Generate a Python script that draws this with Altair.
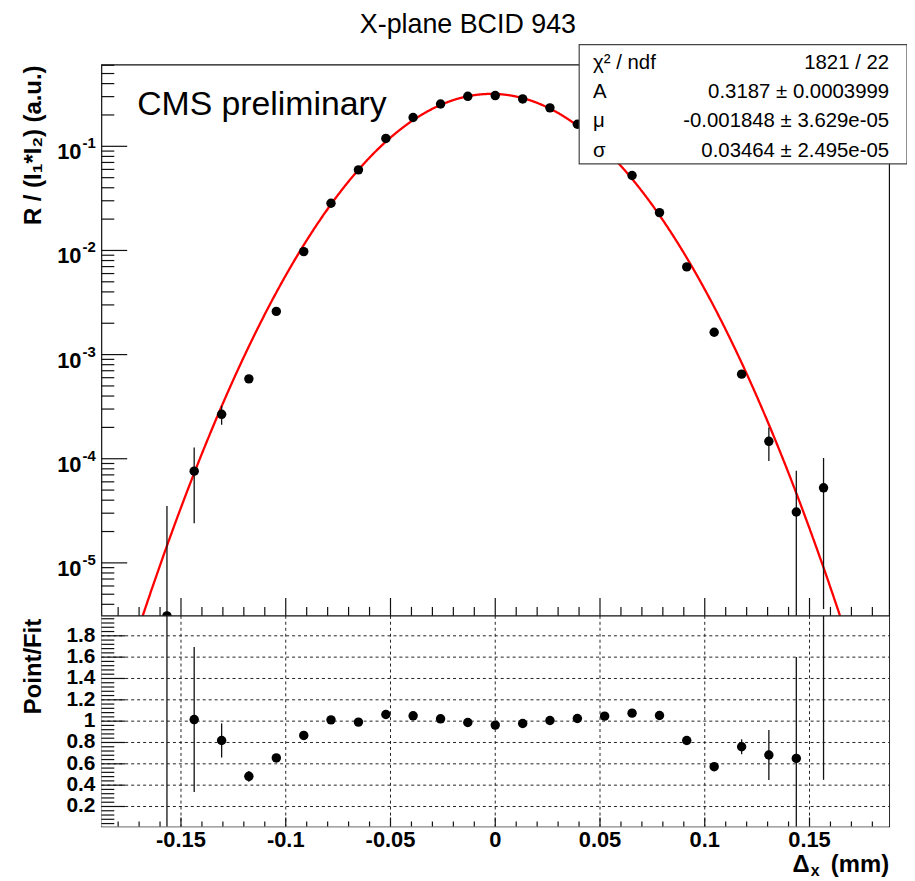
import altair as alt
import numpy as np
import pandas as pd

# ---------------- data ----------------
dx_mm = [-0.1567, -0.1437, -0.1306, -0.1176, -0.1045, -0.0914, -0.0784, -0.0653,
         -0.0522, -0.0392, -0.0261, -0.0131, 0.0, 0.0131, 0.0261, 0.0392, 0.0522,
         0.0653, 0.0784, 0.0914, 0.1045, 0.1176, 0.1306, 0.1437, 0.1567]
rate = [3.1e-6, 7.6e-5, 2.67e-4, 5.85e-4, 2.6e-3, 9.75e-3, 0.0284, 0.0594, 0.119, 0.189,
        0.255, 0.302, 0.307, 0.285, 0.234, 0.163, 0.099, 0.0525, 0.0231, 0.00695, 1.64e-3,
        6.49e-4, 1.47e-4, 3.08e-5, 5.26e-5]
rate_err = [3.2e-5, 5.2e-5, 5.5e-5, 3.0e-5, 5.0e-5, 1.0e-4, 2.0e-4, 3.0e-4, 4.0e-4, 5.0e-4,
            5.0e-4, 5.0e-4, 5.0e-4, 5.0e-4, 5.0e-4, 5.0e-4, 4.0e-4, 3.0e-4, 2.0e-4, 1.0e-4,
            5.0e-5, 4.0e-5, 5.2e-5, 4.6e-5, 4.9e-5]
ratio = [0.0, 1.015, 0.819, 0.483, 0.655, 0.866, 1.012, 0.991, 1.062, 1.05, 1.022, 0.987,
         0.963, 0.978, 1.006, 1.025, 1.047, 1.075, 1.053, 0.819, 0.573, 0.76, 0.683, 0.651, 6.0]
ratio_err = [2.5, 0.68, 0.16, 0.05, 0.02, 0.012, 0.008, 0.006, 0.004, 0.003, 0.002, 0.002,
             0.002, 0.002, 0.002, 0.003, 0.004, 0.006, 0.008, 0.012, 0.03, 0.07, 0.235, 0.95, 5.55]

# fit parameters (shown in the stats box)
fit_A = 0.3187
fit_mu = -0.001848
fit_sigma = 0.03464

stats_names = ["χ² / ndf", "A", "μ", "σ"]
stats_values = ["1821 / 22", "0.3187 ± 0.0003999", "-0.001848 ± 3.629e-05", "0.03464 ± 2.495e-05"]

x_major = [-0.15, -0.1, -0.05, 0.0, 0.05, 0.1, 0.15]
x_major_labels = ["-0.15", "-0.1", "-0.05", "0", "0.05", "0.1", "0.15"]
decades = [1e-1, 1e-2, 1e-3, 1e-4, 1e-5]
decade_exp = ["-1", "-2", "-3", "-4", "-5"]
ratio_major = [1.8, 1.6, 1.4, 1.2, 1.0, 0.8, 0.6, 0.4, 0.2]
ratio_labels = ["1.8", "1.6", "1.4", "1.2", "1", "0.8", "0.6", "0.4", "0.2"]

TITLE = "X-plane BCID 943"
CMS = "CMS preliminary"
YTITLE_TOP = "R / (I\u2081*I\u2082) (a.u.)"
YTITLE_BOT = "Point/Fit"

# ---------------- geometry / style ----------------
W = 793
H_TOP = 555
H = 767
XMIN, XMAX = -0.188, 0.188
YMIN, YMAX = 3.1e-6, 0.61
RMIN, RMAX = 0.013, 1.987
FONT = "Liberation Sans, Arial, Helvetica, sans-serif"
INK = "#111111"

xsc = alt.Scale(domain=[XMIN, XMAX], nice=False, zero=False)
ytop = alt.Scale(type="log", domain=[YMIN, YMAX], range=[H_TOP, 0], clamp=True, nice=False)
ybot = alt.Scale(domain=[RMIN, RMAX], range=[H, H_TOP], clamp=True, nice=False, zero=False)

pts = pd.DataFrame({"x": dx_mm, "rate": rate, "err": rate_err, "ratio": ratio, "rerr": ratio_err})
pts["lo"] = np.maximum(pts["rate"] - pts["err"], 1e-12)
pts["hi"] = pts["rate"] + pts["err"]
pts["rlo"] = pts["ratio"] - pts["rerr"]
pts["rhi"] = pts["ratio"] + pts["rerr"]

# fit curve evaluated from the displayed parameters
xf = np.linspace(XMIN, XMAX, 1505)
yf = fit_A * np.exp(-((xf - fit_mu) ** 2) / (2 * fit_sigma ** 2))
half = fit_sigma * np.sqrt(2 * np.log(fit_A / YMIN))
keep = yf >= YMIN
fit = pd.DataFrame({"x": np.concatenate([[fit_mu - half], xf[keep], [fit_mu + half]]),
                    "y": np.concatenate([[YMIN], yf[keep], [YMIN]])})

one = pd.DataFrame({"k": [0]})

x_minor = [round(-0.18 + 0.01 * k, 2) for k in range(37)]
x_minor = [v for v in x_minor if all(abs(v - m) > 1e-9 for m in x_major)]
log_minor = [m * 10.0 ** e for e in range(-6, 0) for m in range(2, 10)
             if YMIN <= m * 10.0 ** e <= YMAX]
r_minor = [round(0.04 * k, 2) for k in range(1, 50)]
r_minor = [v for v in r_minor if RMIN <= v <= RMAX and all(abs(v - m) > 1e-9 for m in ratio_major)]

X = lambda f="x": alt.X(f"{f}:Q", scale=xsc, axis=None)


def txt(text, x, y, size, weight="normal", align="left", baseline="alphabetic", angle=0):
    kw = dict(font=FONT, fontSize=size, fontWeight=weight, align=align,
              baseline=baseline, color="black")
    if angle:
        kw["angle"] = angle
    return alt.Chart(one).mark_text(**kw).encode(x=alt.value(x), y=alt.value(y), text=alt.value(text))


layers = []

# ---- top panel ----
layers.append(alt.Chart(fit).mark_line(color="#ff0000", strokeWidth=2.3).encode(
    x=X(), y=alt.Y("y:Q", scale=ytop, axis=None)))
layers.append(alt.Chart(pts).mark_rule(color=INK, strokeWidth=1.3).encode(
    x=X(), y=alt.Y("lo:Q", scale=ytop, axis=None), y2="hi:Q"))
layers.append(alt.Chart(pts).mark_circle(color="black", opacity=1, size=90).encode(
    x=X(), y=alt.Y("rate:Q", scale=ytop, axis=None)))

# cover for the lower pad
layers.append(alt.Chart(one).mark_rect(fill="white", stroke=None).encode(
    x=alt.value(0), x2=alt.value(W), y=alt.value(H_TOP), y2=alt.value(H)))

# ---- bottom panel grid ----
grid_h = pd.DataFrame({"v": ratio_major})
layers.append(alt.Chart(grid_h).mark_rule(color="#222", strokeWidth=1, strokeDash=[3, 3]).encode(
    y=alt.Y("v:Q", scale=ybot, axis=None), x=alt.value(0), x2=alt.value(W)))
grid_v = pd.DataFrame({"x": x_major})
layers.append(alt.Chart(grid_v).mark_rule(color="#222", strokeWidth=1, strokeDash=[3, 3]).encode(
    x=X(), y=alt.value(H_TOP), y2=alt.value(H)))

# ---- bottom panel data ----
layers.append(alt.Chart(pts).mark_rule(color=INK, strokeWidth=1.3).encode(
    x=X(), y=alt.Y("rlo:Q", scale=ybot, axis=None), y2="rhi:Q"))
layers.append(alt.Chart(pts).transform_filter(
    f"datum.ratio >= {RMIN} && datum.ratio <= {RMAX}").mark_circle(
    color="black", opacity=1, size=90).encode(
    x=X(), y=alt.Y("ratio:Q", scale=ybot, axis=None)))

# panel separator
layers.append(alt.Chart(one).mark_rule(color=INK, strokeWidth=1.2).encode(
    x=alt.value(0), x2=alt.value(W), y=alt.value(H_TOP)))

# ---- ticks ----
xmaj = pd.DataFrame({"x": x_major})
xmin_ = pd.DataFrame({"x": x_minor})
layers.append(alt.Chart(xmaj).mark_rule(color=INK, strokeWidth=1.2).encode(
    x=X(), y=alt.value(H_TOP), y2=alt.value(H_TOP - 18)))
layers.append(alt.Chart(xmin_).mark_rule(color=INK, strokeWidth=1.2).encode(
    x=X(), y=alt.value(H_TOP), y2=alt.value(H_TOP - 9)))
layers.append(alt.Chart(xmaj).mark_rule(color=INK, strokeWidth=1.2).encode(
    x=X(), y=alt.value(H), y2=alt.value(H - 9)))
layers.append(alt.Chart(xmin_).mark_rule(color=INK, strokeWidth=1.2).encode(
    x=X(), y=alt.value(H), y2=alt.value(H - 5)))

ydec = pd.DataFrame({"v": decades, "e": decade_exp})
layers.append(alt.Chart(ydec).mark_rule(color=INK, strokeWidth=1.2).encode(
    y=alt.Y("v:Q", scale=ytop, axis=None), x=alt.value(0), x2=alt.value(26)))
layers.append(alt.Chart(pd.DataFrame({"v": log_minor})).mark_rule(color=INK, strokeWidth=1.2).encode(
    y=alt.Y("v:Q", scale=ytop, axis=None), x=alt.value(0), x2=alt.value(13)))
rmaj = pd.DataFrame({"v": ratio_major, "lab": ratio_labels})
layers.append(alt.Chart(rmaj).mark_rule(color=INK, strokeWidth=1.2).encode(
    y=alt.Y("v:Q", scale=ybot, axis=None), x=alt.value(0), x2=alt.value(24)))
layers.append(alt.Chart(pd.DataFrame({"v": r_minor})).mark_rule(color=INK, strokeWidth=1.2).encode(
    y=alt.Y("v:Q", scale=ybot, axis=None), x=alt.value(0), x2=alt.value(13)))

# ---- tick labels ----
xlab = pd.DataFrame({"x": x_major, "lab": x_major_labels})
layers.append(alt.Chart(xlab).mark_text(font=FONT, fontSize=22, fontWeight="bold",
                                        align="center", baseline="alphabetic", color="black").encode(
    x=X(), y=alt.value(788), text="lab:N"))
layers.append(alt.Chart(ydec).mark_text(font=FONT, fontSize=22, fontWeight="bold", align="right",
                                        baseline="alphabetic", dy=13, color="black").encode(
    y=alt.Y("v:Q", scale=ytop, axis=None), x=alt.value(-20), text=alt.value("10")))
layers.append(alt.Chart(ydec).mark_text(font=FONT, fontSize=15, fontWeight="bold", align="left",
                                        baseline="alphabetic", dy=2, color="black").encode(
    y=alt.Y("v:Q", scale=ytop, axis=None), x=alt.value(-19), text="e:N"))
layers.append(alt.Chart(rmaj).mark_text(font=FONT, fontSize=21, fontWeight="bold", align="right",
                                        baseline="middle", color="black").encode(
    y=alt.Y("v:Q", scale=ybot, axis=None), x=alt.value(-6), text="lab:N"))

# ---- axis titles ----
layers.append(txt(YTITLE_TOP, -68, 1, 24, "bold", align="right", baseline="middle", angle=270))
layers.append(txt(YTITLE_BOT, -68, H_TOP + 3, 24, "bold", align="right", baseline="middle", angle=270))
layers.append(txt("Δ", 713, 813, 24, "bold", align="right"))
layers.append(txt("x", 714, 817, 16, "bold", align="left"))
layers.append(txt("(mm)", W, 813, 24, "bold", align="right"))

# ---- annotations ----
layers.append(txt(CMS, 36, 51, 34))
layers.append(txt(TITLE, 369, -32, 27, align="center"))

layers.append(alt.Chart(one).mark_rect(fill="white", stroke="#444", strokeWidth=1.2).encode(
    x=alt.value(481), x2=alt.value(811), y=alt.value(-20), y2=alt.value(100)))
stats = pd.DataFrame({"row": [0, 1, 2, 3], "name": stats_names, "val": stats_values})
rowsc = alt.Scale(domain=[0, 3], range=[4, 93])
layers.append(alt.Chart(stats).mark_text(font=FONT, fontSize=20.5, align="left",
                                         baseline="alphabetic", color="black").encode(
    x=alt.value(495), y=alt.Y("row:Q", scale=rowsc, axis=None), text="name:N"))
layers.append(alt.Chart(stats).mark_text(font=FONT, fontSize=20.5, align="right",
                                         baseline="alphabetic", color="black").encode(
    x=alt.value(W), y=alt.Y("row:Q", scale=rowsc, axis=None), text="val:N"))

chart = alt.layer(*layers).resolve_scale(y="independent").properties(
    width=W, height=H,
    autosize=alt.AutoSizeParams(type="none"),
    padding={"left": 94, "top": 54, "right": 18, "bottom": 50},
    background="white",
).configure_view(stroke=INK, strokeWidth=1.2)

chart.save("out.html", embed_options={"renderer": "svg", "actions": False})
